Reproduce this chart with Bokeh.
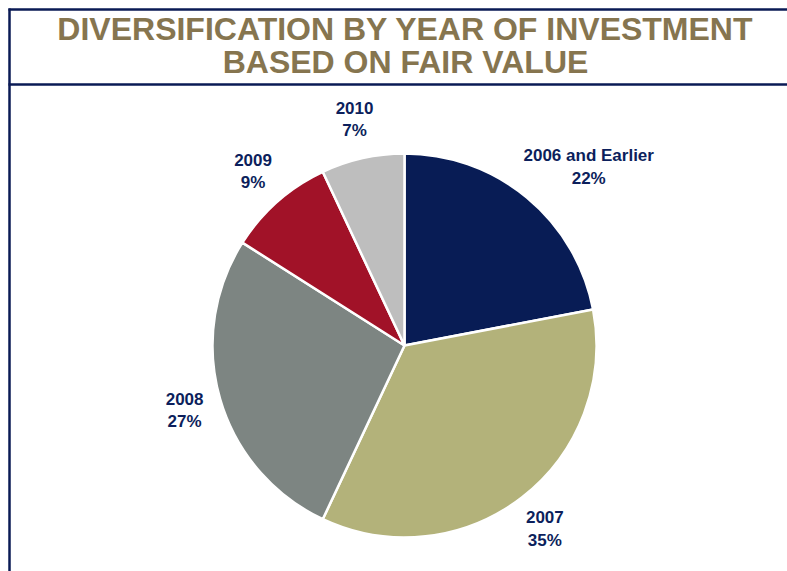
import math
from bokeh.plotting import figure
from bokeh.models import Range1d
from bokeh.core.properties import value
from bokeh.embed import file_html
from bokeh.resources import INLINE

# ---- data ----
categories = ["2006 and Earlier", "2007", "2008", "2009", "2010"]
shares = [22, 35, 27, 9, 7]
pct_labels = ["22%", "35%", "27%", "9%", "7%"]
colors = ["#081c55", "#b3b27a", "#7d8582", "#a11228", "#bebebe"]
title_lines = ["DIVERSIFICATION BY YEAR OF INVESTMENT", "BASED ON FAIR VALUE"]

# ---- layout (pixel frame, y measured upwards) ----
W, H = 787, 571


def yy(y_ref):
    return H - y_ref


p = figure(width=W, height=H, output_backend="svg", toolbar_location=None,
           x_range=Range1d(0, W), y_range=Range1d(0, H),
           min_border=0)
p.axis.visible = False
p.grid.visible = False
p.outline_line_color = None
p.background_fill_color = "white"
p.border_fill_color = "white"

navy = "#0a1a55"
# frame lines
p.segment(x0=[8, 8, 9], y0=[yy(9), yy(84), yy(8)],
          x1=[W, W, 9], y1=[yy(9), yy(84), 0],
          line_color=navy, line_width=2.5)

# title
title_col = "#86754f"
p.text(x=[405, 405], y=[yy(28), yy(61)], text=title_lines,
       text_font=value("Liberation Sans"), text_font_style="bold",
       text_font_size="32px", text_color=title_col,
       text_align="center", text_baseline="middle")

# pie
cx, cy, R = 404, yy(345), 192
total = float(sum(shares))
starts, ends, mids = [], [], []
a = math.pi / 2
for s in shares:
    sweep = 2 * math.pi * s / total
    starts.append(a)
    ends.append(a - sweep)
    mids.append(a - sweep / 2)
    a -= sweep

p.wedge(x=[cx] * len(shares), y=[cy] * len(shares), radius=R,
        start_angle=starts, end_angle=ends, direction="clock",
        fill_color=colors, line_color="white", line_width=2.5)

# labels (outside end)
lab_font = "17px"
line_gap = 23
pad = 17
char_w = 10
half_h = 23
lx, ly1, ly2 = [], [], []
for name, m in zip(categories, mids):
    c, s = math.cos(m), math.sin(m)
    w = len(name) * char_w
    x = cx + (R + pad) * c + (w / 2) * c
    y = cy + (R + pad) * s + half_h * s
    lx.append(x)
    ly1.append(y + line_gap / 2)
    ly2.append(y - line_gap / 2)

lab_col = "#0c1f5c"
p.text(x=lx, y=ly1, text=categories, text_font=value("Liberation Sans"),
       text_font_style="bold", text_font_size=lab_font, text_color=lab_col,
       text_align="center", text_baseline="middle")
p.text(x=lx, y=ly2, text=pct_labels, text_font=value("Liberation Sans"),
       text_font_style="bold", text_font_size=lab_font, text_color=lab_col,
       text_align="center", text_baseline="middle")

open("out.html", "w").write(file_html(p, INLINE))
